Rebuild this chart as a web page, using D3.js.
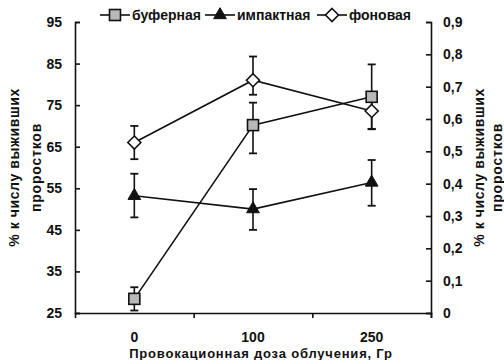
<!DOCTYPE html>
<html>
<head>
<meta charset="utf-8">
<script src="https://cdn.jsdelivr.net/npm/d3@7"></script>
<style>
  body { margin: 0; background: #fff; }
  text { font-family: "Liberation Sans", Arial, sans-serif; fill: #111; font-weight: bold; }
</style>
</head>
<body>
<script>
var categories = ["0", "100", "250"];
var seriesNames = ["буферная", "импактная", "фоновая"];

// values in % (left axis)
var bufVals = [28.4, 70.2, 77.0];
var bufLo = [2.8, 6.8, 7.8];
var bufHi = [2.8, 5.4, 7.8];

var impVals = [53.2, 50.0, 56.4];
var impLo = [5.2, 5.0, 5.6];
var impHi = [5.3, 4.8, 5.4];

var fonVals = [66.0, 81.0, 73.6];
var fonLo = [4.0, 3.5, 4.3];
var fonHi = [4.0, 5.7, 3.0];

var leftTicks = [25, 35, 45, 55, 65, 75, 85, 95];
var rightTicks = [0, 0.1, 0.2, 0.3, 0.4, 0.5, 0.6, 0.7, 0.8, 0.9];

var yLabel1 = "% к числу выживших";
var yLabel2 = "проростков";
var xLabel = "Провокационная доза облучения, Гр";

var width = 504, height = 360;
var margin = {top: 22, right: 73, bottom: 47, left: 75};

var svg = d3.select("body").append("svg")
    .attr("width", width)
    .attr("height", height);

var x = d3.scaleBand()
    .domain(categories)
    .range([margin.left, width - margin.right]);

var y = d3.scaleLinear()
    .domain([25, 95])
    .range([height - margin.bottom, margin.top]);

var y2 = d3.scaleLinear()
    .domain([0, 0.9])
    .range([height - margin.bottom, margin.top]);

var fmt = function(d) { return d === 0 ? "0" : d3.format(".1f")(d).replace(".", ","); };

// left axis
var gl = svg.append("g")
    .attr("transform", "translate(" + margin.left + ",0)")
    .call(d3.axisRight(y).tickValues(leftTicks).tickSize(5));
gl.selectAll("text").attr("text-anchor", "end").attr("x", -13);

// right axis
var gr = svg.append("g")
    .attr("transform", "translate(" + (width - margin.right) + ",0)")
    .call(d3.axisLeft(y2).tickValues(rightTicks).tickFormat(fmt).tickSize(5));
gr.selectAll("text").attr("text-anchor", "start").attr("x", 12);

// bottom axis, ticks at band boundaries
var bx = d3.scaleLinear().domain([0, 3]).range(x.range());
svg.append("g")
    .attr("transform", "translate(0," + (height - margin.bottom) + ")")
    .call(d3.axisBottom(bx).tickValues([1, 2, 3]).tickFormat("").tickSize(5));

svg.selectAll("g text").style("font-size", "14px").attr("fill", "#111");
svg.selectAll(".domain, .tick line").attr("stroke", "#111").attr("stroke-width", 1.6);

svg.append("g").selectAll("text")
    .data(categories)
    .enter().append("text")
    .attr("x", function(d) { return x(d) + x.bandwidth() / 2; })
    .attr("y", height - margin.bottom + 29)
    .attr("text-anchor", "middle")
    .style("font-size", "14px")
    .text(function(d) { return d; });

svg.append("text")
    .attr("x", 261)
    .attr("y", height - 2)
    .attr("text-anchor", "middle")
    .style("font-size", "13px")
    .style("letter-spacing", "0.8px")
    .text(xLabel);

// y titles
var cy = (margin.top + height - margin.bottom) / 2;
[[14, 479], [36, 497]].forEach(function(p, i) {
  p.forEach(function(px) {
    svg.append("text")
      .attr("transform", "translate(" + (px + 5) + "," + cy + ") rotate(-90)")
      .attr("text-anchor", "middle")
      .style("font-size", "14px")
      .style("letter-spacing", i === 0 ? "0.6px" : "0.8px")
      .text(i === 0 ? yLabel1 : yLabel2);
  });
});

var series = [
  {name: seriesNames[0], vals: bufVals, lo: bufLo, hi: bufHi, shape: "square"},
  {name: seriesNames[1], vals: impVals, lo: impLo, hi: impHi, shape: "triangle"},
  {name: seriesNames[2], vals: fonVals, lo: fonLo, hi: fonHi, shape: "diamond"}
];

var cx = function(i) { return x(categories[i]) + x.bandwidth() / 2; };

var line = d3.line()
    .x(function(d, i) { return cx(i); })
    .y(function(d) { return y(d); });

function marker(g, shape) {
  if (shape === "square") {
    g.append("rect").attr("x", -5.5).attr("y", -5.5).attr("width", 11).attr("height", 11)
      .attr("fill", "#b8b8b8").attr("stroke", "#111").attr("stroke-width", 1.6);
  } else if (shape === "triangle") {
    g.append("path").attr("d", d3.symbol().type(d3.symbolTriangle).size(70))
      .attr("fill", "#111").attr("stroke", "#111").attr("stroke-width", 1);
  } else {
    g.append("path").attr("d", "M0,-6.5L6.5,0L0,6.5L-6.5,0Z")
      .attr("fill", "#fff").attr("stroke", "#111").attr("stroke-width", 1.6);
  }
}

series.forEach(function(s) {
  var g = svg.append("g");
  s.vals.forEach(function(v, i) {
    var px = cx(i), top = y(v + s.hi[i]), bot = y(v - s.lo[i]);
    g.append("line").attr("x1", px).attr("x2", px).attr("y1", top).attr("y2", bot)
      .attr("stroke", "#111").attr("stroke-width", 1.6);
    [top, bot].forEach(function(yy) {
      g.append("line").attr("x1", px - 4).attr("x2", px + 4).attr("y1", yy).attr("y2", yy)
        .attr("stroke", "#111").attr("stroke-width", 1.8);
    });
  });
  g.append("path").datum(s.vals).attr("d", line)
    .attr("fill", "none").attr("stroke", "#111").attr("stroke-width", 1.6);
});

series.forEach(function(s) {
  s.vals.forEach(function(v, i) {
    var m = svg.append("g").attr("transform", "translate(" + cx(i) + "," + y(v) + ")");
    marker(m, s.shape);
  });
});

// legend
var legX = [100, 205, 317];
series.forEach(function(s, i) {
  var g = svg.append("g").attr("transform", "translate(" + legX[i] + ",15)");
  g.append("line").attr("x1", 0).attr("x2", 30).attr("stroke", "#111").attr("stroke-width", 1.6);
  var m = g.append("g").attr("transform", "translate(15,0)");
  marker(m, s.shape);
  g.append("text").attr("x", 32).attr("y", 5).style("font-size", "14px").text(s.name);
});
</script>
</body>
</html>
